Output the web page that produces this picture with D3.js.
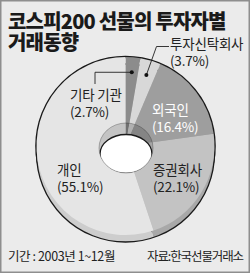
<!DOCTYPE html>
<html><head><meta charset="utf-8">
<script src="https://cdn.jsdelivr.net/npm/d3@7"></script>
<style>
html,body{margin:0;padding:0;background:#fff;}
svg{display:block;}
text{font-family:"Noto Sans CJK KR","Noto Sans",sans-serif;}
</style></head>
<body>
<script>
// ---- data ----
const categories = ["기타 기관", "투자신탁회사", "외국인", "증권회사", "개인"];
const values = [2.7, 3.7, 16.4, 22.1, 55.1];
const titleLines = ["코스피200 선물의 투자자별", "거래동향"];
const periodNote = "기간 : 2003년 1~12월";
const sourceNote = "자료:한국선물거래소";

// ---- styles / layout ----
const W = 250, H = 273;
const topColors  = ["#8c8c8c", "#d8d8d8", "#9e9e9e", "#c3c3c3", "#e5e5e5"];
const sideColors = ["#6e6e6e", "#b4b4b4", "#838383", "#a8a8a8", "#cdcdcd"];
const wallColors = ["#707070", "#b0b0b0", "#858585", "#a5a5a5", "#c4c4c4"];
const labelColors = ["#222", "#222", "#fff", "#222", "#222"];
const labelPos = [[70, 100], [170, 49], [152, 115], [153, 175], [57, 175]];
const cx = 125.5, cy = 146, R = 89, depth = 7;
const hole = {cx: 126, cy: 148, rx: 27, ry: 25};
const floorE = {cx: 126, cy: 154, rx: 26, ry: 19.5};

const svg = d3.select("body").append("svg").attr("width", W).attr("height", H);
const defs = svg.append("defs");
svg.append("rect").attr("x", 0.75).attr("y", 0.75).attr("width", W - 1.5).attr("height", H - 1.5)
  .attr("fill", "#ebebeb").attr("stroke", "#8e8e8e").attr("stroke-width", 1.5);

const pie = d3.pie().sort(null).value(d => d)(values);
const arcFull = d3.arc().innerRadius(0).outerRadius(R);

// top outline (under)
svg.append("circle").attr("cx", cx).attr("cy", cy).attr("r", R)
  .attr("fill", "none").attr("stroke", "#1a1a1a").attr("stroke-width", 2.6);

// side (shifted) slices
const sideG = svg.append("g").attr("transform", `translate(${cx},${cy + depth})`);
sideG.selectAll("path").data(pie).join("path").attr("d", arcFull)
  .attr("fill", (d, i) => sideColors[i]);
sideG.append("circle").attr("r", R).attr("fill", "none").attr("stroke", "#1a1a1a").attr("stroke-width", 1.3);

// top face
const topG = svg.append("g").attr("transform", `translate(${cx},${cy})`);
topG.selectAll("path").data(pie).join("path").attr("d", arcFull)
  .attr("fill", (d, i) => topColors[i]);

// hole
defs.append("clipPath").attr("id", "holeClip").append("ellipse")
  .attr("cx", hole.cx).attr("cy", hole.cy).attr("rx", hole.rx).attr("ry", hole.ry);
const holeG = svg.append("g").attr("clip-path", "url(#holeClip)");
holeG.append("g").attr("transform", `translate(${cx},${cy})`)
  .selectAll("path").data(pie).join("path").attr("d", arcFull)
  .attr("fill", (d, i) => wallColors[i]);
holeG.append("ellipse").attr("cx", floorE.cx).attr("cy", floorE.cy).attr("rx", floorE.rx).attr("ry", floorE.ry)
  .attr("fill", "#fff").attr("stroke", "#1a1a1a").attr("stroke-width", 1.3);
svg.append("ellipse").attr("cx", hole.cx).attr("cy", hole.cy).attr("rx", hole.rx).attr("ry", hole.ry)
  .attr("fill", "none").attr("stroke", "#1a1a1a").attr("stroke-width", 0.6).attr("stroke-opacity", 0.5);

// leader lines for small slices
const dotArc = d3.arc().innerRadius(74).outerRadius(74);
const c0 = dotArc.centroid(pie[0]), c1 = dotArc.centroid(pie[1]);
const p0 = [cx + c0[0], cy + c0[1]], p1 = [cx + c1[0], cy + c1[1]];
const lead = svg.append("g").attr("fill", "none").attr("stroke", "#222").attr("stroke-width", 0.9);
lead.append("path").attr("d", d3.line()([p0, [95, p0[1]], [95, 84]]));
lead.append("path").attr("d", d3.line()([p1, [156.5, 46.5], [169, 46.5]]));
svg.append("circle").attr("cx", p0[0]).attr("cy", p0[1]).attr("r", 2).attr("fill", "#111");
svg.append("circle").attr("cx", p1[0]).attr("cy", p1[1]).attr("r", 2).attr("fill", "#111");

// labels
const fmt = d3.format(".1f");
const lab = svg.append("g");
categories.forEach((c, i) => {
  const t = lab.append("text").attr("x", labelPos[i][0]).attr("y", labelPos[i][1])
    .attr("font-size", 13.5).attr("letter-spacing", -0.2).attr("fill", labelColors[i]);
  t.append("tspan").text(c);
  t.append("tspan").attr("x", labelPos[i][0]).attr("dy", 16.5).text(`(${fmt(values[i])}%)`);
});

// title
titleLines.forEach((s, i) => {
  svg.append("text").attr("x", 8).attr("y", 29 + i * 20.5).attr("font-size", 20)
    .attr("font-weight", 900).attr("letter-spacing", -0.8).attr("fill", "#1a1a1a").text(s);
});

// footer
svg.append("text").attr("x", 8).attr("y", 261).attr("font-size", 12.5).attr("letter-spacing", -0.4)
  .attr("fill", "#222").text(periodNote);
svg.append("text").attr("x", 147).attr("y", 261).attr("font-size", 12.5).attr("letter-spacing", -1.1)
  .attr("fill", "#222").text(sourceNote);
</script>
</body></html>
